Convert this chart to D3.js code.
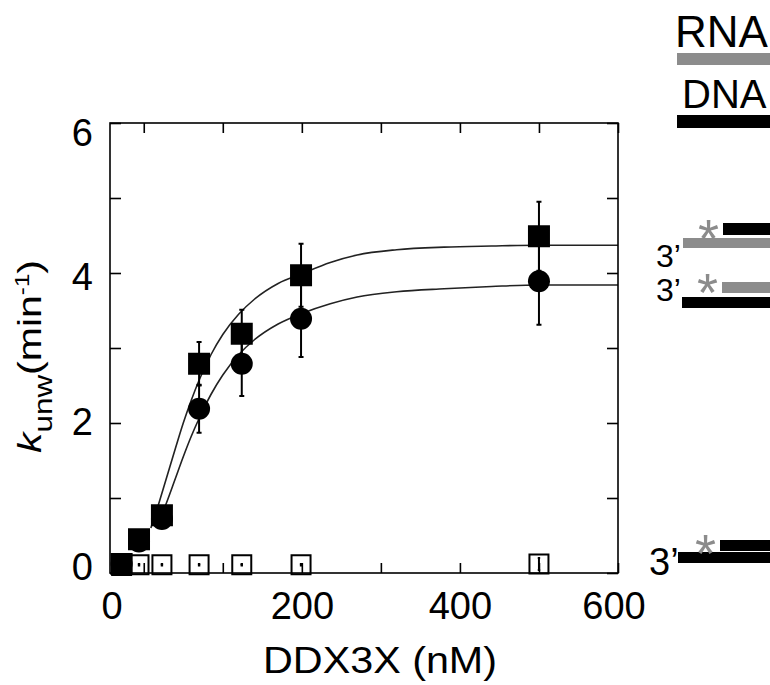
<!DOCTYPE html>
<html>
<head>
<meta charset="utf-8">
<script src="https://cdn.jsdelivr.net/npm/d3@7"></script>
<style>
  html, body { margin: 0; padding: 0; background: #fff; }
  svg { display: block; font-family: "Liberation Sans", Arial, Helvetica, sans-serif; }
</style>
</head>
<body>
<svg id="chart" width="770" height="685"></svg>
<script>
// DDX3X titration: unwinding rate constants (k_unw, min^-1) for three duplex substrates
const concentrations = [-28, -6, 23, 70, 124, 199, 500];          // DDX3X, nM (as plotted)
const dnaRnaRate = [0.12, 0.45, 0.77, 2.79, 3.19, 3.97, 4.49];    // filled squares
const dnaRnaErr  = [0.04, 0.05, 0.06, 0.29, 0.32, 0.42, 0.46];
const rnaDnaRate = [0.12, 0.42, 0.72, 2.19, 2.79, 3.39, 3.89];    // filled circles
const rnaDnaErr  = [0.04, 0.05, 0.06, 0.32, 0.43, 0.51, 0.58];
const dnaDnaRate = [0.10, 0.11, 0.11, 0.11, 0.11, 0.11, 0.12];    // open squares
const dnaDnaErr  = [0.01, 0.01, 0.01, 0.01, 0.01, 0.01, 0.08];

// fitted saturation curves
const dnaRnaFitX = [9, 20, 30, 40, 50, 60, 70, 85, 100, 120, 140, 170, 200, 236, 270, 320, 380, 440, 500, 600];
const dnaRnaFitY = [0.60, 0.96, 1.31, 1.66, 2.00, 2.30, 2.57, 2.91, 3.18, 3.45, 3.65, 3.86, 3.99, 4.14, 4.24, 4.31, 4.345, 4.36, 4.37, 4.37];
const rnaDnaFitX = [19, 30, 40, 50, 60, 70, 85, 100, 120, 140, 170, 200, 236, 270, 320, 380, 440, 500, 600];
const rnaDnaFitY = [0.67, 0.97, 1.26, 1.55, 1.82, 2.06, 2.38, 2.64, 2.91, 3.11, 3.32, 3.46, 3.59, 3.68, 3.75, 3.79, 3.82, 3.84, 3.84];

// axis ticks and labels
const xTickValues = [0, 100, 200, 300, 400, 500, 600];
const xTickLabels = [0, 200, 400, 600];
const yTickValues = [0, 1, 2, 3, 4, 5, 6];
const yTickLabels = [0, 2, 4, 6];

const FONT = '"Liberation Sans", Arial, Helvetica, sans-serif';
const GRAY = "#8c8c8c";

const svg = d3.select("#chart");

const x = d3.scaleLinear().domain([-42.7, 600]).range([110, 618]);
const y = d3.scaleLinear().domain([0, 6]).range([573, 123]);
const [x0, x1] = x.range();
const [yb, yt] = y.range();

// ---- fitted curves ----
const line = d3.line().x(d => x(d[0])).y(d => y(d[1])).curve(d3.curveMonotoneX);
[[dnaRnaFitX, dnaRnaFitY], [rnaDnaFitX, rnaDnaFitY]].forEach(([xs, ys]) => {
  svg.append("path")
    .datum(xs.map((v, i) => [v, ys[i]]))
    .attr("d", line)
    .attr("fill", "none")
    .attr("stroke", "#222")
    .attr("stroke-width", 1.6);
});

// ---- error bars ----
function errorBars(values, errs, capHalf) {
  const g = svg.append("g").attr("stroke", "#000").attr("stroke-width", 2);
  concentrations.forEach((c, i) => {
    const cx = x(c), lo = y(values[i] - errs[i]), hi = y(values[i] + errs[i]);
    g.append("line").attr("x1", cx).attr("x2", cx).attr("y1", lo).attr("y2", hi);
    g.append("line").attr("x1", cx - capHalf).attr("x2", cx + capHalf).attr("y1", lo).attr("y2", lo);
    g.append("line").attr("x1", cx - capHalf).attr("x2", cx + capHalf).attr("y1", hi).attr("y2", hi);
  });
}
errorBars(dnaDnaRate, dnaDnaErr, 1.2);
errorBars(rnaDnaRate, rnaDnaErr, 2.5);
errorBars(dnaRnaRate, dnaRnaErr, 2.5);

// ---- markers ----
const data = key => concentrations.map((c, i) => ({ c, v: key[i] }));

svg.append("g").selectAll("rect").data(data(dnaDnaRate)).join("rect")
  .attr("x", d => x(d.c) - 9.5).attr("y", d => y(d.v) - 9.5)
  .attr("width", 19).attr("height", 19)
  .attr("fill", "none").attr("stroke", "#000").attr("stroke-width", 2);

svg.append("g").selectAll("circle").data(data(rnaDnaRate)).join("circle")
  .attr("cx", d => x(d.c)).attr("cy", d => y(d.v)).attr("r", 11)
  .attr("fill", "#000");

svg.append("g").selectAll("rect").data(data(dnaRnaRate)).join("rect")
  .attr("x", d => x(d.c) - 11).attr("y", d => y(d.v) - 11)
  .attr("width", 22).attr("height", 22)
  .attr("fill", "#000");

// ---- frame and inward ticks ----
const tickOnly = g => {
  g.select(".domain").remove();
  g.selectAll(".tick text").remove();
  g.selectAll(".tick line").attr("stroke", "#000").attr("stroke-width", 1.6);
};
svg.append("g").attr("transform", `translate(0,${yb})`)
  .call(d3.axisBottom(x).tickValues(xTickValues).tickSize(-10)).call(tickOnly);
svg.append("g").attr("transform", `translate(0,${yt})`)
  .call(d3.axisTop(x).tickValues(xTickValues).tickSize(-10)).call(tickOnly);
svg.append("g").attr("transform", `translate(${x0},0)`)
  .call(d3.axisLeft(y).tickValues(yTickValues).tickSize(-11)).call(tickOnly);
svg.append("g").attr("transform", `translate(${x1},0)`)
  .call(d3.axisRight(y).tickValues(yTickValues).tickSize(-11)).call(tickOnly);

svg.append("rect")
  .attr("x", x0).attr("y", yt).attr("width", x1 - x0).attr("height", yb - yt)
  .attr("fill", "none").attr("stroke", "#000").attr("stroke-width", 1.6);

// ---- tick labels ----
const labelStyle = g => {
  g.select(".domain").remove();
  g.attr("font-family", FONT).attr("font-size", 38);
  g.selectAll(".tick text").attr("fill", "#000");
};
const xl = svg.append("g").attr("transform", `translate(0,${yb})`)
  .call(d3.axisBottom(x).tickValues(xTickLabels).tickSize(0).tickPadding(19).tickFormat(d3.format("d")))
  .call(labelStyle);
// the zero label sits under the left corner of the frame, the last one just inside the right edge
xl.selectAll(".tick").filter(d => d === 0).attr("transform", `translate(${x0 + 2},0)`);
xl.selectAll(".tick").filter(d => d === 600).attr("transform", `translate(${x1 - 4},0)`);

const yLabelScale = d3.scaleLinear().domain([0, 6]).range([567, 133]);
svg.append("g").attr("transform", "translate(93,0)")
  .call(d3.axisLeft(yLabelScale).tickValues(yTickLabels).tickSize(0).tickPadding(0).tickFormat(d3.format("d")))
  .call(labelStyle);

// ---- axis titles ----
svg.append("text")
  .attr("x", 263).attr("y", 673)
  .attr("font-family", FONT).attr("font-size", 37)
  .attr("textLength", 234).attr("lengthAdjust", "spacingAndGlyphs")
  .text("DDX3X (nM)");

const yTitle = svg.append("text")
  .attr("transform", "translate(41,453) rotate(-90)")
  .attr("font-family", FONT).attr("font-size", 34)
  .attr("textLength", 193).attr("lengthAdjust", "spacingAndGlyphs");
yTitle.append("tspan").attr("font-style", "italic").text("k");
yTitle.append("tspan").attr("font-size", 26).attr("dy", 11).text("unw");
yTitle.append("tspan").attr("dy", -11).text("(min");
yTitle.append("tspan").attr("font-size", 20).attr("dy", -12).text("-1");
yTitle.append("tspan").attr("dy", 12).text(")");

// ---- strand key ----
const strandKey = [
  { label: "RNA", color: GRAY, size: 44, tx: 675, ty: 47, barY: 53, barH: 12 },
  { label: "DNA", color: "#000", size: 40, tx: 682, ty: 108, barY: 115, barH: 13 }
];
strandKey.forEach(k => {
  svg.append("text").attr("x", k.tx).attr("y", k.ty)
    .attr("font-family", FONT).attr("font-size", k.size).attr("fill", "#000").text(k.label);
  svg.append("rect").attr("x", 677).attr("y", k.barY).attr("width", 100).attr("height", k.barH)
    .attr("fill", k.color);
});

// ---- substrate cartoons (labelled top strand, 3' overhang on bottom strand) ----
const substrates = [
  { top: "#000", bottom: GRAY,   topY: 223, topH: 12, botY: 238, botH: 10, bx: 683, tx: 723, primeX: 656, primeY: 267, primeSize: 32, starY: 257 },
  { top: GRAY,   bottom: "#000", topY: 282, topH: 11, botY: 297, botH: 11, bx: 682, tx: 722, primeX: 656, primeY: 301, primeSize: 32, starY: 311 },
  { top: "#000", bottom: "#000", topY: 540, topH: 11, botY: 552, botH: 11, bx: 678, tx: 720, primeX: 649, primeY: 575, primeSize: 38, starY: 572 }
];
substrates.forEach(s => {
  svg.append("rect").attr("x", s.bx).attr("y", s.botY).attr("width", 100).attr("height", s.botH).attr("fill", s.bottom);
  svg.append("rect").attr("x", s.tx).attr("y", s.topY).attr("width", 100).attr("height", s.topH).attr("fill", s.top);
  svg.append("text").attr("x", s.tx - 25).attr("y", s.starY)
    .attr("font-family", FONT).attr("font-size", 54).attr("fill", GRAY).text("*");
  svg.append("text").attr("x", s.primeX).attr("y", s.primeY)
    .attr("font-family", FONT).attr("font-size", s.primeSize).attr("fill", "#000").text("3\u2019");
});
</script>
</body>
</html>
